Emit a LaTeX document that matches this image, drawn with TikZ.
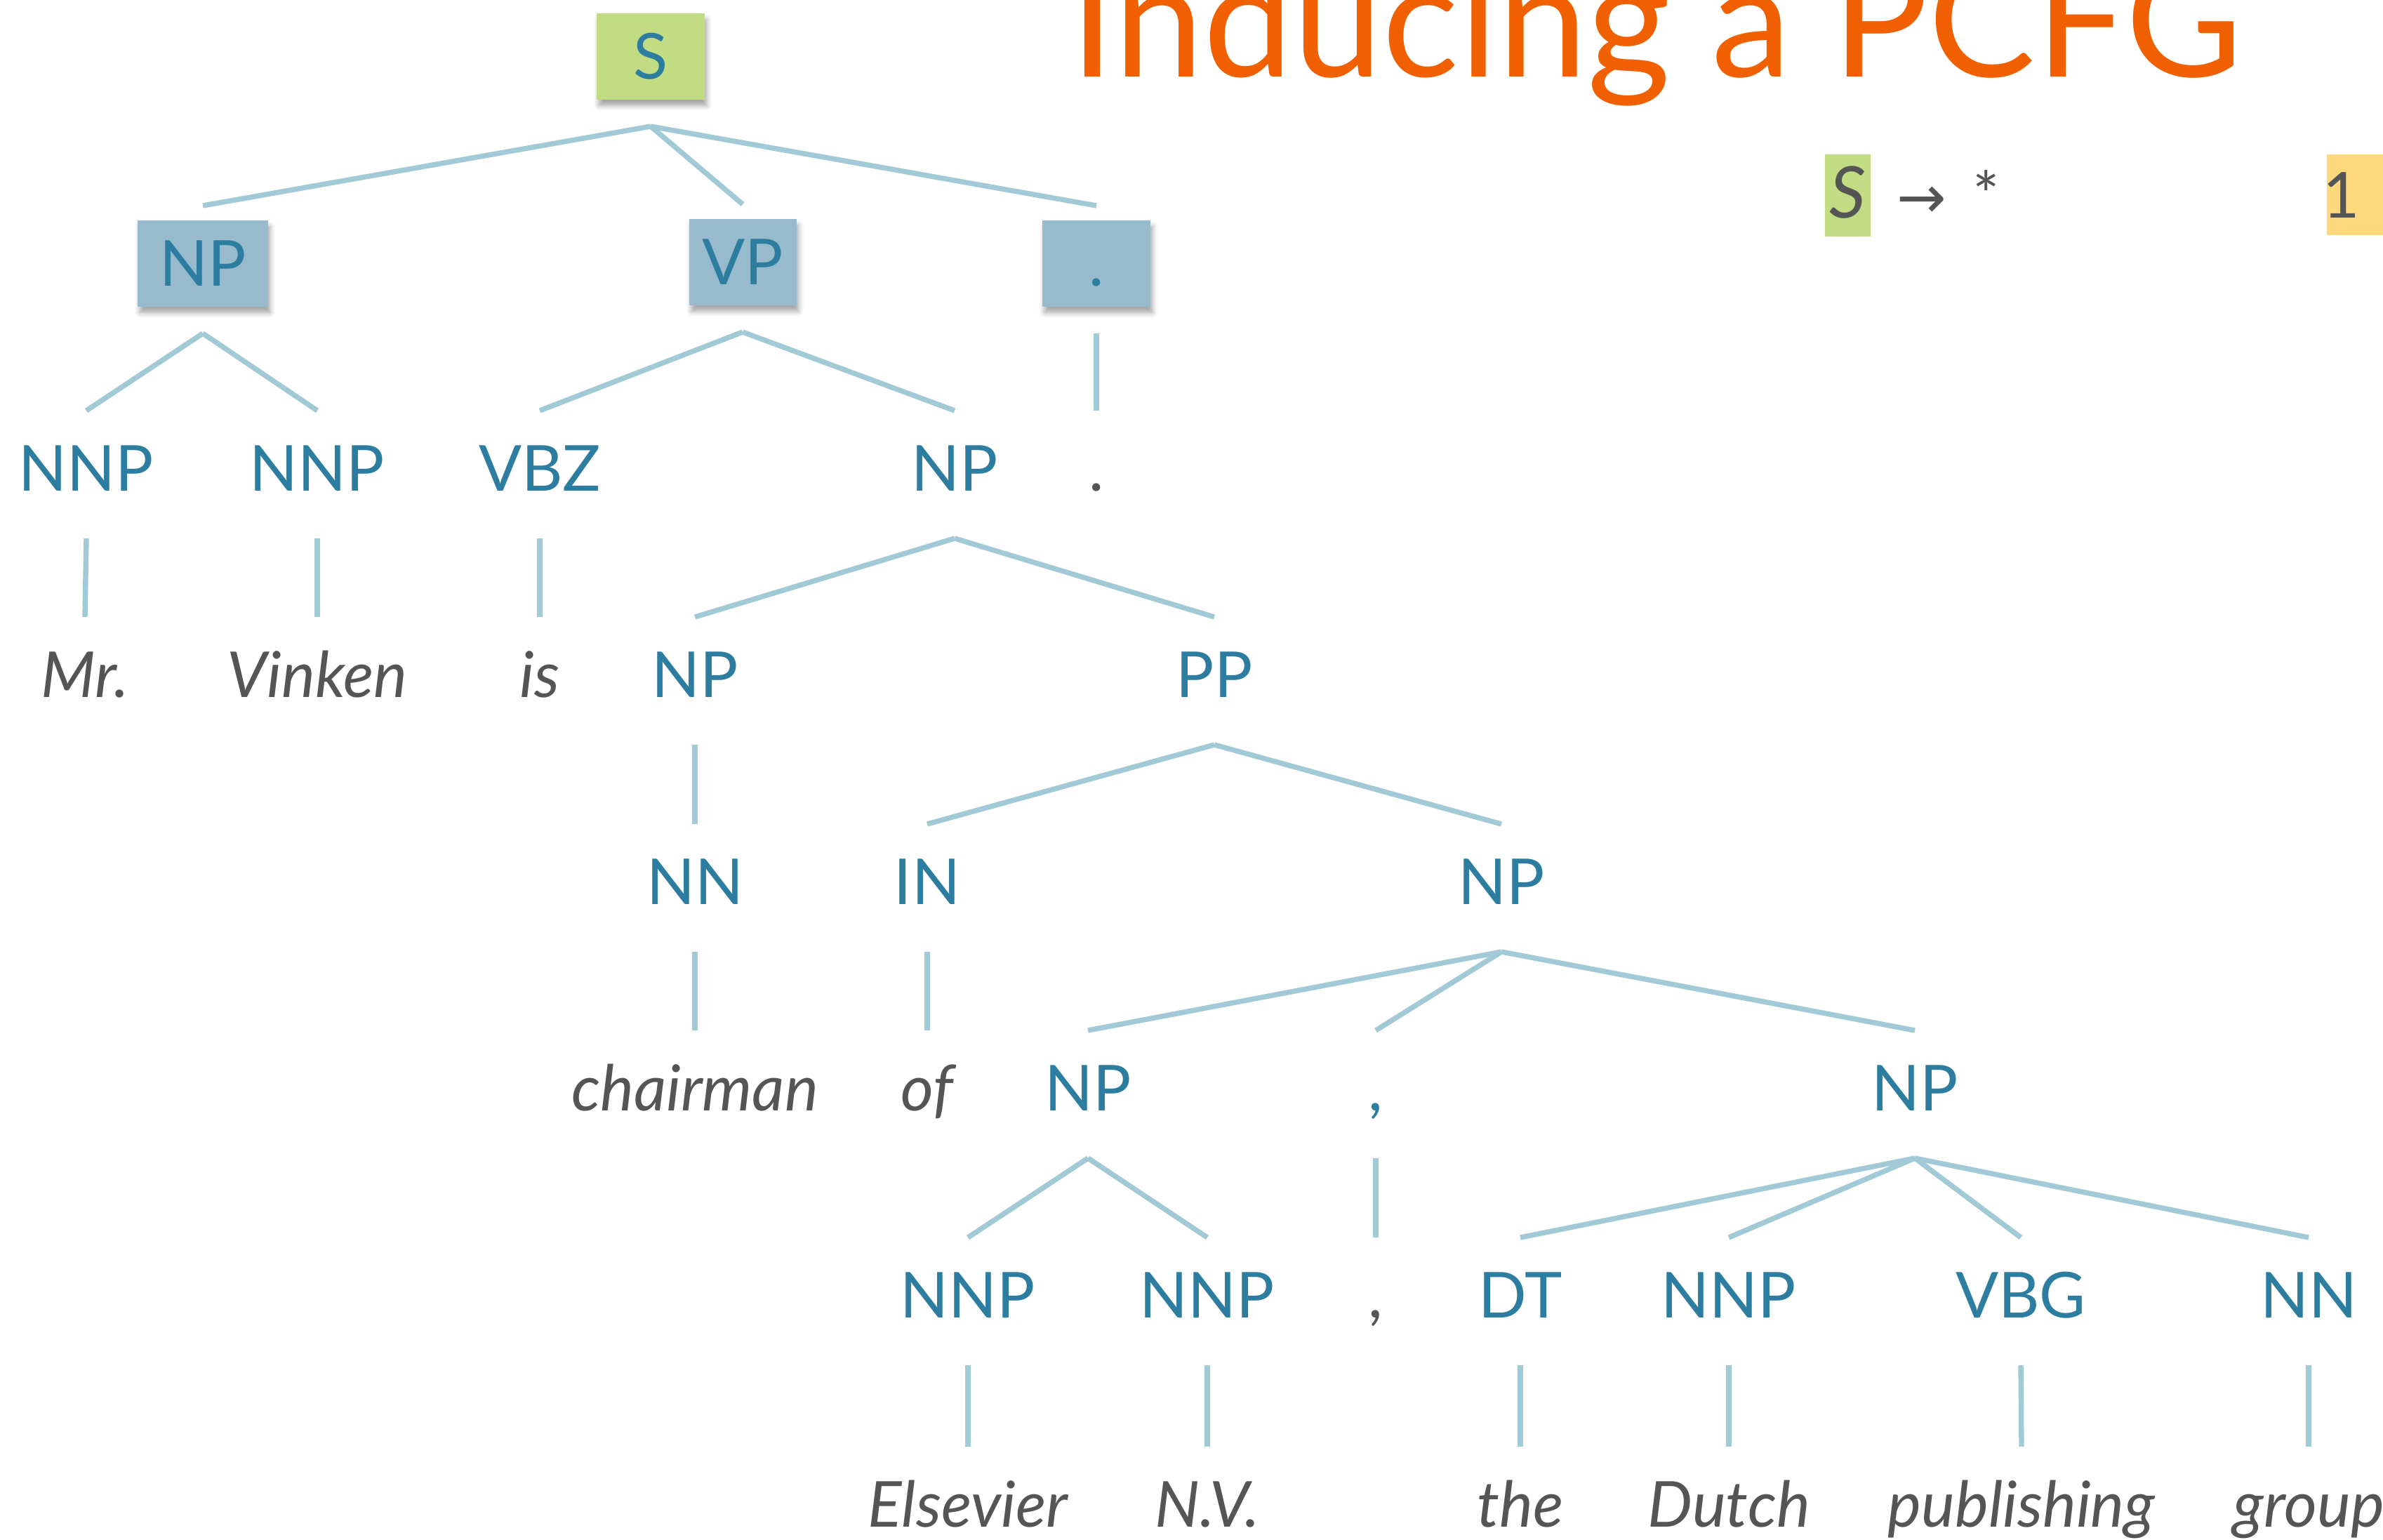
\documentclass[tikz,border=0pt]{standalone}
\usepackage{fontspec}
\setmainfont{Lato}
\newfontfamily\arrowfont{DejaVu Sans}
\usetikzlibrary{shadows.blur}
\definecolor{tagblue}{RGB}{45,125,160}
\definecolor{branchblue}{RGB}{162,202,214}
\definecolor{boxblue}{RGB}{151,187,205}
\definecolor{boxgreen}{RGB}{193,220,131}
\definecolor{boxyellow}{RGB}{253,217,124}
\definecolor{titleorange}{RGB}{240,96,0}
\definecolor{wordgray}{RGB}{85,85,85}
\begin{document}
\begin{tikzpicture}[
  every node/.style={inner sep=0pt, text height=0.65cm, text depth=0pt,
    font=\fontsize{25.7}{30}\selectfont},
  tag/.style={text=tagblue},
  word/.style={text=wordgray, font=\fontsize{25.7}{30}\selectfont\itshape},
  phrase/.style={tag, fill=boxblue, minimum height=1.23cm,
    blur shadow={shadow xshift=0.03cm, shadow yshift=-0.09cm,
      shadow blur radius=0.07cm, shadow opacity=35}},
  branch/.style={draw=branchblue, line width=2.1pt},
  rulebox/.style={minimum width=0.65cm, minimum height=1.17cm}
]
  \useasboundingbox (0,0) rectangle (33.95,-21.93);
  \clip (0,0) rectangle (33.95,-21.93);

  % title and rule
  \node [anchor=base west, text=titleorange, text height=, font=\fontsize{65}{70}\selectfont]
    (title) at (15.24,-1.09) {Inducing a PCFG};
  \node [rulebox, fill=boxgreen, text=wordgray, font=\fontsize{29}{30}\selectfont\itshape]
    (lhs) at (26.32,-2.78) {S};
  \node [text=wordgray, font=\fontsize{24}{30}\arrowfont] (arrow) at (27.38,-2.78) {→};
  \node [text=wordgray] (rhs) at (28.30,-2.78) {*};
  \path [fill=boxyellow] (33.15,-2.20) rectangle (34.10,-3.35);
  \node [text=wordgray] (prob) at (33.36,-2.78) {1};

  % top rows
  \node [phrase, fill=boxgreen, minimum width=1.54cm] (s) at (9.27,-0.80) {S};
  \node [phrase, minimum width=1.86cm] (np) at (2.89,-3.75) {NP};
  \node [phrase, minimum width=1.53cm] (vp) at (10.58,-3.73) {VP};
  \node [phrase, minimum width=1.54cm] (dot) at (15.62,-3.75) {.};

  \node [tag] (nnpmr) at (1.23,-6.67) {NNP};
  \node [tag] (nnpvi) at (4.52,-6.67) {NNP};
  \node [tag] (vbz) at (7.69,-6.67) {VBZ};
  \node [tag] (npobj) at (13.60,-6.67) {NP};
  \node [text=wordgray] (wdot) at (15.62,-6.67) {.};

  \node [word] (mr) at (1.21,-9.61) {Mr.};
  \node [word] (vinken) at (4.52,-9.61) {Vinken};
  \node [word] (is) at (7.69,-9.61) {is};
  \node [tag] (npch) at (9.90,-9.61) {NP};
  \node [tag] (pp) at (17.30,-9.61) {PP};

  \node [tag] (nn) at (9.90,-12.56) {NN};
  \node [tag] (in) at (13.21,-12.56) {IN};
  \node [tag] (npof) at (21.39,-12.56) {NP};

  \node [word] (chairman) at (9.90,-15.50) {chairman};
  \node [word] (of) at (13.21,-15.50) {of};
  \node [tag] (npels) at (15.50,-15.50) {NP};
  \node [tag] (comma) at (19.60,-15.50) {,};
  \node [tag] (npgrp) at (27.28,-15.50) {NP};

  \node [tag] (nnpel) at (13.79,-18.45) {NNP};
  \node [tag] (nnpnv) at (17.20,-18.45) {NNP};
  \node [text=wordgray] (wcomma) at (19.60,-18.45) {,};
  \node [tag] (dt) at (21.66,-18.45) {DT};
  \node [tag] (nnpdu) at (24.63,-18.45) {NNP};
  \node [tag] (vbg) at (28.79,-18.45) {VBG};
  \node [tag] (nngr) at (32.89,-18.45) {NN};

  \node [word] (elsevier) at (13.79,-21.43) {Elsevier};
  \node [word] (nv) at (17.20,-21.43) {N.V.};
  \node [word] (the) at (21.66,-21.43) {the};
  \node [word] (dutch) at (24.63,-21.43) {Dutch};
  \node [word] (publishing) at (28.80,-21.43) {publishing};
  \node [word] (group) at (32.89,-21.43) {group};

  % branches
  \foreach \p/\c in {s/np, s/vp, s/dot, np/nnpmr, np/nnpvi, vp/vbz, vp/npobj,
    dot/wdot, nnpmr/mr, nnpvi/vinken, vbz/is, npobj/npch, npobj/pp,
    npch/nn, pp/in, pp/npof, nn/chairman, in/of,
    npof/npels, npof/comma, npof/npgrp, npels/nnpel, npels/nnpnv,
    comma/wcomma, npgrp/dt, npgrp/nnpdu, npgrp/vbg, npgrp/nngr,
    nnpel/elsevier, nnpnv/nv, dt/the, nnpdu/dutch, vbg/publishing, nngr/group}
  \draw [branch] ([yshift=-1.0cm]\p.center) -- ([yshift=0.82cm]\c.center);
\end{tikzpicture}
\end{document}
